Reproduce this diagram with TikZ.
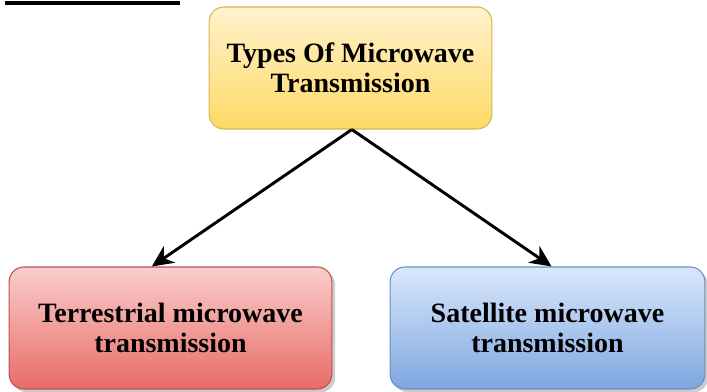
\documentclass[tikz,border=0pt]{standalone}
\usepackage{fontspec}
\setmainfont{Liberation Serif}
\usepackage{tikz}
\usetikzlibrary{arrows.meta}
\usetikzlibrary{shadows}
\usepackage{xcolor}
\definecolor{ylwtop}{HTML}{FFF2CC}
\definecolor{ylwbot}{HTML}{FFD966}
\definecolor{ylwline}{HTML}{D6B656}
\definecolor{redtop}{HTML}{F8CECC}
\definecolor{redbot}{HTML}{EA6B66}
\definecolor{redline}{HTML}{B85450}
\definecolor{blutop}{HTML}{DAE8FC}
\definecolor{blubot}{HTML}{7EA6E0}
\definecolor{bluline}{HTML}{6C8EBF}

\tikzset{
  typebox/.style={draw, rounded corners=11pt, line width=0.8pt, align=center,
    minimum height=91.5pt, inner sep=0pt,
    font=\fontsize{21}{22.5}\selectfont\bfseries},
  arrowline/.style={-{Stealth[length=16pt,width=15pt,inset=5pt]}, line width=2.2pt}
}

\begin{document}
\begin{tikzpicture}[x=0.75pt, y=-0.75pt]
            \useasboundingbox (0,0) rectangle (707,392);
            \draw[line width=3pt] (5,3) -- (180,3);
            \node[typebox, minimum width=212pt, draw=ylwline, top color=ylwtop, bottom color=ylwbot] (types) at (350.5,68) {Types Of Microwave\\Transmission};
            \node[typebox, minimum width=242pt, draw=redline, top color=redtop, bottom color=redbot,
              drop shadow={shadow xshift=2.5pt, shadow yshift=-2.5pt, fill=black!40, opacity=0.5}] (terr) at (170.5,328) {Terrestrial microwave\\transmission};
            \node[typebox, minimum width=236pt, draw=bluline, top color=blutop, bottom color=blubot,
              drop shadow={shadow xshift=2.5pt, shadow yshift=-2.5pt, fill=black!40, opacity=0.5}] (sat) at (547.5,328) {Satellite microwave\\transmission};

            \draw[arrowline] ([xshift=1pt]types.south) -- ([xshift=-14pt]terr.north);
            \draw[arrowline] ([xshift=1pt]types.south) -- ([xshift=3pt]sat.north);
        \end{tikzpicture}
\end{document}
